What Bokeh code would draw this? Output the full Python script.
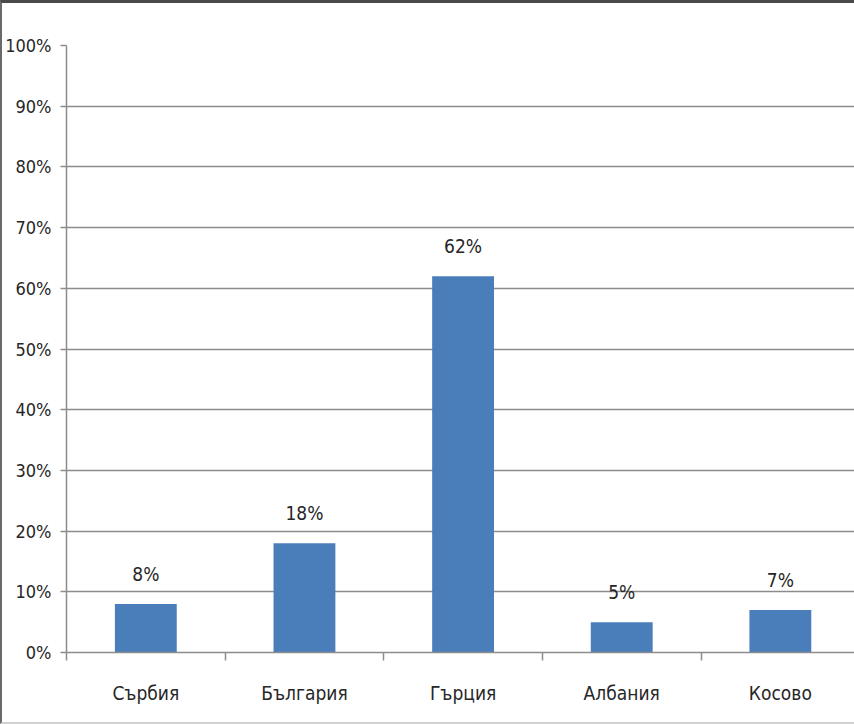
from bokeh.plotting import figure
from bokeh.models import Range1d, FixedTicker, NumeralTickFormatter, ColumnDataSource
from bokeh.core.properties import value
from bokeh.embed import file_html
from bokeh.resources import INLINE

categories = ["Сърбия", "България", "Гърция", "Албания", "Косово"]
shares = [0.08, 0.18, 0.62, 0.05, 0.07]
bar_labels = ["8%", "18%", "62%", "5%", "7%"]
y_ticks = [0, 0.1, 0.2, 0.3, 0.4, 0.5, 0.6, 0.7, 0.8, 0.9, 1.0]

FONT = "'DejaVu Sans Condensed', Lato, sans-serif"
TXT = "#262626"
GRID = "#8c8c8c"

xs = [i + 0.5 for i in range(len(categories))]
src = ColumnDataSource(dict(x=xs, top=shares, lab=bar_labels))

p = figure(width=854, height=724, output_backend="svg", toolbar_location=None,
           x_range=Range1d(0, 4.98), y_range=Range1d(0, 1.0),
           min_border_left=58, min_border_top=42, min_border_right=0, min_border_bottom=75,
           styles={"border-top": "3px solid #4a4a4a", "border-left": "2px solid #6a6a6a",
                   "border-bottom": "2px solid #d0d0d0", "box-sizing": "border-box"})
p.outline_line_color = None

p.vbar(x="x", top="top", bottom=0, width=0.39, source=src, fill_color="#4A7EBB", line_color=None)
p.text(x="x", y="top", text="lab", source=src, y_offset=-19, text_align="center",
       text_baseline="bottom", text_font=value(FONT), text_font_size="19px", text_color=TXT)

# y axis
p.yaxis.ticker = FixedTicker(ticks=y_ticks)
p.yaxis.formatter = NumeralTickFormatter(format="0%")
p.yaxis.major_label_text_font = FONT
p.yaxis.major_label_text_font_size = "18px"
p.yaxis.major_label_text_color = TXT
p.yaxis.major_label_standoff = 9
p.yaxis.major_tick_out = 6
p.yaxis.major_tick_in = 0
p.yaxis.minor_tick_out = 0
p.yaxis.minor_tick_in = 0
p.yaxis.axis_line_color = GRID
p.yaxis.major_tick_line_color = GRID
p.yaxis.axis_line_width = 1.5
p.yaxis.major_tick_line_width = 1.5

# x axis: labels at centers, ticks at boundaries
p.xaxis.ticker = FixedTicker(ticks=xs, minor_ticks=[0, 1, 2, 3, 4, 5])
p.xaxis.major_label_overrides = {x: c for x, c in zip(xs, categories)}
p.xaxis.major_label_text_font = FONT
p.xaxis.major_label_text_font_size = "19px"
p.xaxis.major_label_text_color = TXT
p.xaxis.major_label_standoff = 21
p.xaxis.major_tick_out = 0
p.xaxis.major_tick_in = 0
p.xaxis.minor_tick_out = 8
p.xaxis.minor_tick_in = 0
p.xaxis.minor_tick_line_color = GRID
p.xaxis.minor_tick_line_width = 1.5
p.xaxis.axis_line_color = GRID
p.xaxis.axis_line_width = 1.5

p.xgrid.grid_line_color = None
p.ygrid.grid_line_color = GRID
p.ygrid.grid_line_width = 1.5

open("out.html", "w").write(file_html(p, INLINE))
